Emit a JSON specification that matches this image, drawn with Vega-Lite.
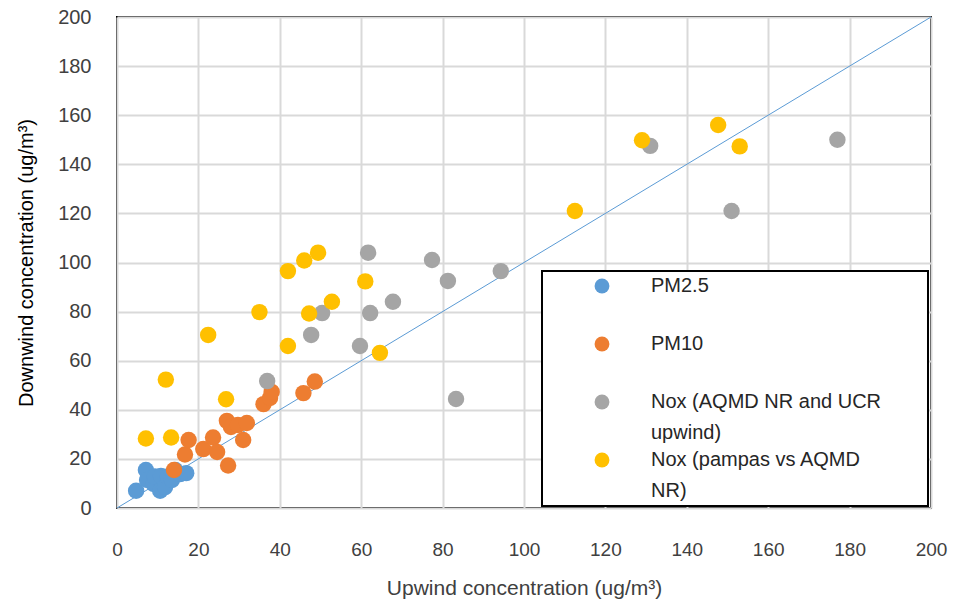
{
  "$schema": "https://vega.github.io/schema/vega-lite/v6.json",
  "width": 814,
  "height": 491,
  "autosize": "none",
  "padding": {"left": 117, "top": 17, "right": 22, "bottom": 95},
  "background": "white",
  "config": {
    "view": {"stroke": "black", "strokeWidth": 2},
    "font": "Liberation Sans, sans-serif"
  },
  "datasets": {
    "pts": [
      {"series": "PM2.5", "up": 4.7, "down": 7.0},
      {"series": "PM2.5", "up": 7.1, "down": 15.5},
      {"series": "PM2.5", "up": 7.4, "down": 11.4},
      {"series": "PM2.5", "up": 9.0, "down": 9.8},
      {"series": "PM2.5", "up": 9.3, "down": 12.8},
      {"series": "PM2.5", "up": 10.6, "down": 7.0},
      {"series": "PM2.5", "up": 10.8, "down": 13.0},
      {"series": "PM2.5", "up": 11.8, "down": 8.5},
      {"series": "PM2.5", "up": 12.5, "down": 12.8},
      {"series": "PM2.5", "up": 13.5, "down": 11.4},
      {"series": "PM2.5", "up": 14.3, "down": 15.5},
      {"series": "PM2.5", "up": 15.5, "down": 13.8},
      {"series": "PM2.5", "up": 17.0, "down": 14.2},
      {"series": "PM10", "up": 14.0, "down": 15.5},
      {"series": "PM10", "up": 16.7, "down": 21.8},
      {"series": "PM10", "up": 17.6, "down": 27.7},
      {"series": "PM10", "up": 21.2, "down": 24.0},
      {"series": "PM10", "up": 23.6, "down": 28.7},
      {"series": "PM10", "up": 24.6, "down": 22.8},
      {"series": "PM10", "up": 27.0, "down": 35.5},
      {"series": "PM10", "up": 27.3, "down": 17.3},
      {"series": "PM10", "up": 28.0, "down": 33.0},
      {"series": "PM10", "up": 29.7, "down": 33.8},
      {"series": "PM10", "up": 31.0, "down": 27.7},
      {"series": "PM10", "up": 31.9, "down": 34.6},
      {"series": "PM10", "up": 36.0, "down": 42.3},
      {"series": "PM10", "up": 37.6, "down": 44.8},
      {"series": "PM10", "up": 38.0, "down": 47.3},
      {"series": "PM10", "up": 45.8, "down": 46.8},
      {"series": "PM10", "up": 48.6, "down": 51.5},
      {"series": "Nox (AQMD NR and UCR upwind)", "up": 36.9, "down": 51.7},
      {"series": "Nox (AQMD NR and UCR upwind)", "up": 47.7, "down": 70.5},
      {"series": "Nox (AQMD NR and UCR upwind)", "up": 50.4, "down": 79.4},
      {"series": "Nox (AQMD NR and UCR upwind)", "up": 59.7, "down": 66.0},
      {"series": "Nox (AQMD NR and UCR upwind)", "up": 61.7, "down": 104.0},
      {"series": "Nox (AQMD NR and UCR upwind)", "up": 62.2, "down": 79.4},
      {"series": "Nox (AQMD NR and UCR upwind)", "up": 67.8, "down": 84.0},
      {"series": "Nox (AQMD NR and UCR upwind)", "up": 77.4, "down": 101.0},
      {"series": "Nox (AQMD NR and UCR upwind)", "up": 81.3, "down": 92.5},
      {"series": "Nox (AQMD NR and UCR upwind)", "up": 83.3, "down": 44.4},
      {"series": "Nox (AQMD NR and UCR upwind)", "up": 94.3, "down": 96.5},
      {"series": "Nox (AQMD NR and UCR upwind)", "up": 131.0, "down": 147.5},
      {"series": "Nox (AQMD NR and UCR upwind)", "up": 151.0, "down": 121.0},
      {"series": "Nox (AQMD NR and UCR upwind)", "up": 177.0, "down": 150.0},
      {"series": "Nox (pampas vs AQMD NR)", "up": 7.1, "down": 28.3},
      {"series": "Nox (pampas vs AQMD NR)", "up": 12.0, "down": 52.3},
      {"series": "Nox (pampas vs AQMD NR)", "up": 13.3, "down": 28.7},
      {"series": "Nox (pampas vs AQMD NR)", "up": 22.4, "down": 70.5},
      {"series": "Nox (pampas vs AQMD NR)", "up": 26.8, "down": 44.3},
      {"series": "Nox (pampas vs AQMD NR)", "up": 35.0, "down": 79.8},
      {"series": "Nox (pampas vs AQMD NR)", "up": 42.0, "down": 96.5},
      {"series": "Nox (pampas vs AQMD NR)", "up": 42.0, "down": 66.0},
      {"series": "Nox (pampas vs AQMD NR)", "up": 46.0, "down": 100.8},
      {"series": "Nox (pampas vs AQMD NR)", "up": 47.2, "down": 79.2},
      {"series": "Nox (pampas vs AQMD NR)", "up": 49.4, "down": 104.0},
      {"series": "Nox (pampas vs AQMD NR)", "up": 52.8, "down": 84.0},
      {"series": "Nox (pampas vs AQMD NR)", "up": 61.0, "down": 92.3},
      {"series": "Nox (pampas vs AQMD NR)", "up": 64.6, "down": 63.2},
      {"series": "Nox (pampas vs AQMD NR)", "up": 112.5, "down": 121.0},
      {"series": "Nox (pampas vs AQMD NR)", "up": 129.0, "down": 149.8},
      {"series": "Nox (pampas vs AQMD NR)", "up": 147.7, "down": 156.0},
      {"series": "Nox (pampas vs AQMD NR)", "up": 153.0, "down": 147.3}
    ],
    "diag": [
      {"up": 0, "down": 0},
      {"up": 200, "down": 200}
    ]
  },
  "layer": [
    {
      "data": {"name": "diag"},
      "mark": {"type": "line", "color": "#5B9BD5", "strokeWidth": 1},
      "encoding": {
        "x": {"field": "up", "type": "quantitative"},
        "y": {"field": "down", "type": "quantitative"}
      }
    },
    {
      "data": {"name": "pts"},
      "mark": {"type": "point", "filled": true, "opacity": 1, "size": 270},
      "encoding": {
        "x": {
          "field": "up", "type": "quantitative",
          "scale": {"domain": [0, 200], "nice": false},
          "axis": {
            "title": "Upwind concentration (ug/m³)",
            "values": [0, 20, 40, 60, 80, 100, 120, 140, 160, 180, 200],
            "grid": true, "gridColor": "#d9d9d9", "gridWidth": 2,
            "ticks": false, "domain": false, "labelFlush": false,
            "labelFontSize": 19, "labelColor": "#404040", "labelPadding": 32,
            "titleFontSize": 21, "titleFontWeight": "normal", "titleColor": "#404040", "titlePadding": 18
          }
        },
        "y": {
          "field": "down", "type": "quantitative",
          "scale": {"domain": [0, 200], "nice": false},
          "axis": {
            "title": "Downwind concentration (ug/m³)",
            "values": [0, 20, 40, 60, 80, 100, 120, 140, 160, 180, 200],
            "grid": true, "gridColor": "#d9d9d9", "gridWidth": 2,
            "ticks": false, "domain": false, "labelFlush": false,
            "labelFontSize": 20, "labelColor": "#404040", "labelPadding": 26,
            "titleFontSize": 20, "titleFontWeight": "normal", "titleColor": "black", "titlePadding": 21
          }
        },
        "color": {
          "field": "series", "type": "nominal",
          "scale": {
            "domain": ["PM2.5", "PM10", "Nox (AQMD NR and UCR upwind)", "Nox (pampas vs AQMD NR)"],
            "range": ["#5B9BD5", "#ED7D31", "#A5A5A5", "#FFC000"]
          },
          "legend": {
            "title": ".",
            "titleOrient": "right",
            "titleOpacity": 0,
            "titleFontSize": 8,
            "titlePadding": 39,
            "orient": "none",
            "legendX": 425,
            "legendY": 254,
            "direction": "vertical",
            "fillColor": "white",
            "strokeColor": "black",
            "padding": 5,
            "symbolType": "circle",
            "symbolSize": 220,
            "symbolOpacity": 1,
            "symbolOffset": 45,
            "labelOffset": 39,
            "labelFontSize": 20,
            "labelColor": "#262626",
            "labelLimit": 400,
            "rowPadding": 7,
            "labelExpr": "datum.label == 'Nox (AQMD NR and UCR upwind)' ? ['Nox (AQMD NR and UCR', 'upwind)'] : datum.label == 'Nox (pampas vs AQMD NR)' ? ['Nox (pampas vs AQMD', 'NR)'] : [datum.label, ' ']",
            "encode": {
              "legend": {"update": {"strokeWidth": {"value": 2}}},
              "labels": {"update": {"lineHeight": {"value": 31}}}
            }
          }
        }
      }
    }
  ]
}
